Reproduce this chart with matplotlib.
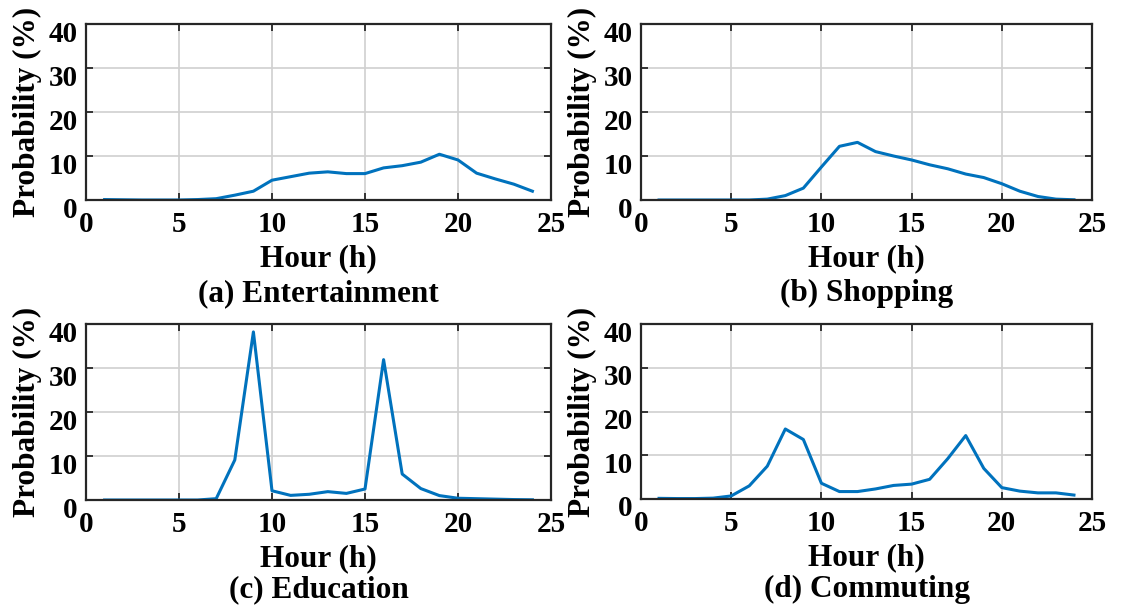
import numpy as np
import matplotlib
matplotlib.use('Agg')
import matplotlib.pyplot as plt
from matplotlib.transforms import ScaledTranslation

plt.rcParams['font.family'] = 'Liberation Serif'
plt.rcParams['font.weight'] = 'bold'

hours = np.arange(1, 25)

entertainment = [0.1, 0.05, 0.0, 0.0, 0.0, 0.1, 0.3, 1.1, 2.0, 4.5, 5.3, 6.1,
                 6.4, 6.0, 6.0, 7.3, 7.8, 8.6, 10.4, 9.1, 6.1, 4.8, 3.6, 2.0]
shopping = [0.0, 0.0, 0.0, 0.0, 0.0, 0.0, 0.2, 1.0, 2.7, 7.5, 12.2, 13.1,
            11.0, 10.0, 9.1, 8.0, 7.1, 5.9, 5.1, 3.7, 2.0, 0.8, 0.2, 0.05]
education = [0.0, 0.0, 0.0, 0.0, 0.0, 0.0, 0.3, 9.1, 38.2, 2.1, 1.05, 1.3,
             1.9, 1.5, 2.5, 31.9, 5.9, 2.6, 1.0, 0.4, 0.3, 0.2, 0.1, 0.05]
commuting = [0.15, 0.1, 0.1, 0.2, 0.7, 3.0, 7.5, 16.0, 13.6, 3.6, 1.7, 1.7,
             2.3, 3.1, 3.4, 4.5, 9.2, 14.5, 7.0, 2.6, 1.8, 1.4, 1.4, 0.9]

series = [entertainment, shopping, education, commuting]
captions = ['(a) Entertainment', '(b) Shopping', '(c) Education', '(d) Commuting']

W, H = 1130, 609
fig = plt.figure(figsize=(W / 100, H / 100), dpi=100)

# axes boxes in pixels: left, top, right, bottom
boxes = [(86, 24, 551, 200), (641, 24, 1092, 200),
         (86, 324, 551, 500), (641, 324, 1092, 499)]
# caption top, pixels below the axes bottom
cap_gap = [79, 79, 75, 76]

for vals, cap, (l, t, r, b), cg in zip(series, captions, boxes, cap_gap):
    w, h = r - l, b - t
    ax = fig.add_axes([l / W, 1 - b / H, w / W, h / H])
    ax.plot(hours, vals, color='#0072BD', lw=2.2)
    ax.set_xlim(0, 25)
    ax.set_ylim(0, 40)
    ax.set_xticks([0, 5, 10, 15, 20, 25])
    ax.set_yticks([0, 10, 20, 30, 40])
    ax.grid(True, color='#d0d0d0', lw=1.2)
    ax.tick_params(direction='in', top=True, right=True, length=5, width=1.3,
                   labelsize=21, color='#262626')
    ax.tick_params(axis='x', pad=8)
    ax.tick_params(axis='y', pad=6)
    # nudge y tick labels down a little
    shift = ScaledTranslation(0, -0.07, fig.dpi_scale_trans)
    for lab in ax.get_yticklabels():
        lab.set_transform(lab.get_transform() + shift)
    for s in ax.spines.values():
        s.set_linewidth(1.6)
        s.set_color('#262626')
    ax.set_xlabel('Hour (h)', fontsize=22.5, fontweight='bold', va='top')
    ax.xaxis.set_label_coords(0.5, -44 / h)
    ax.set_ylabel('Probability (%)', fontsize=22.5, fontweight='bold')
    ax.yaxis.set_label_coords(-44 / w, 0.5)
    ax.text(0.5, -cg / h, cap, transform=ax.transAxes, ha='center', va='top',
            fontsize=22.5, fontweight='bold')

fig.savefig('out.png', dpi=100)
